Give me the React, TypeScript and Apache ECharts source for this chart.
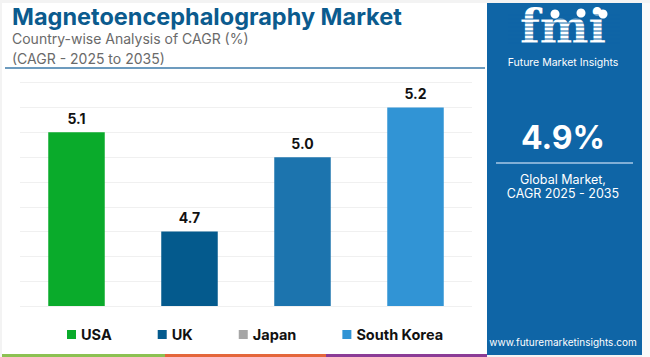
import React, { useEffect, useRef } from "react";
import * as echarts from "echarts";

const categories = ["USA", "UK", "Japan", "South Korea"];
const values = [5.1, 4.7, 5.0, 5.2];
const barColors = ["#0aab2b", "#045a8d", "#1c74ae", "#3194d5"];
const legendColors = ["#0aab2b", "#045a8d", "#a6a6a6", "#3194d5"];
const yMin = 4.4;
const yMax = 5.3;
const yStep = 0.1;

const FONT = "Inter, 'Open Sans', sans-serif";

export default function App() {
  const ref = useRef<HTMLDivElement>(null);
  useEffect(() => {
    if (!ref.current) return;
    const chart = echarts.init(ref.current, null, { renderer: "svg" });
    const series = categories.map((name, i) => ({
      name,
      type: "bar",
      barWidth: "50%",
      barGap: "-100%",
      itemStyle: { color: barColors[i] },
      label: {
        show: true,
        position: "top",
        distance: 7,
        fontFamily: FONT,
        fontWeight: "bold",
        fontSize: 14,
        color: "#111",
        formatter: (p: any) => Number(p.value).toFixed(1),
      },
      data: categories.map((_, j) => (j === i ? values[i] : "-")),
    }));
    chart.setOption({
      animation: false,
      backgroundColor: "#f3f3f3",
      grid: { left: 20, right: 178, top: 82.7, bottom: 51 },
      xAxis: {
        type: "category",
        data: categories,
        axisLine: { show: false },
        axisTick: { show: false },
        axisLabel: { show: false },
      },
      yAxis: {
        type: "value",
        min: yMin,
        max: yMax,
        interval: yStep,
        axisLabel: { show: false },
        axisLine: { show: false },
        axisTick: { show: false },
        splitLine: { lineStyle: { color: "#f0f0f0", width: 1 } },
      },
      legend: {
        left: 62,
        top: 322,
        icon: "rect",
        itemWidth: 9,
        itemHeight: 9,
        itemGap: 46,
        selectedMode: false,
        textStyle: { fontFamily: FONT, fontWeight: "bold", fontSize: 14.5, color: "#111" },
        data: categories.map((name, i) => ({ name, itemStyle: { color: legendColors[i] } })),
      },
      graphic: [
        { type: "rect", z: -10, shape: { x: 2, y: 3, width: 485, height: 351 }, style: { fill: "#ffffff" } },
        { type: "rect", z: -10, shape: { x: 642, y: 3, width: 8, height: 354 }, style: { fill: "#fafafa" } },
        {
          type: "text", left: 12, top: 3,
          style: { text: "Magnetoencephalography Market", fontFamily: FONT, fontWeight: "bold", fontSize: 23.5, lineHeight: 26, fill: "#0b5b8e" },
        },
        {
          type: "text", left: 12, top: 30,
          style: { text: "Country-wise Analysis of CAGR (%)", fontFamily: FONT, fontSize: 14, lineHeight: 16, fill: "#6a6a6a" },
        },
        {
          type: "text", left: 12, top: 50,
          style: { text: "(CAGR - 2025 to 2035)", fontFamily: FONT, fontSize: 14, lineHeight: 16, fill: "#6a6a6a" },
        },
        { type: "line", shape: { x1: 5, y1: 68, x2: 485, y2: 68 }, style: { stroke: "#3d7aa8", lineWidth: 1.5 } },
        { type: "rect", shape: { x: 487, y: 3, width: 155, height: 352 }, style: { fill: "#0f65a6" } },
        {
          type: "text", x: 563, y: 27,
          style: { text: "fmi", fontFamily: "'DejaVu Serif', serif", fontWeight: "bold", fontSize: 46, lineHeight: 36, fill: "#ffffff", align: "center", verticalAlign: "middle" },
        },
        ...[15, 19, 23, 27, 31, 35, 39, 43].map((y) => ({
          type: "line", shape: { x1: 508, y1: y, x2: 620, y2: y }, style: { stroke: "#0f65a6", lineWidth: 1 },
        })),
        { type: "circle", shape: { cx: 555, cy: 14, r: 4.5 }, style: { fill: "#ffffff" } },
        { type: "circle", shape: { cx: 581, cy: 13, r: 4.5 }, style: { fill: "#ffffff" } },
        { type: "circle", shape: { cx: 603, cy: 14, r: 4.5 }, style: { fill: "#ffffff" } },
        {
          type: "text", x: 563, y: 62,
          style: { text: "Future Market Insights", fontFamily: FONT, fontSize: 10.5, lineHeight: 12, fill: "#ffffff", align: "center", verticalAlign: "middle" },
        },
        {
          type: "text", x: 563, y: 137,
          style: { text: "4.9%", fontFamily: FONT, fontWeight: "bold", fontSize: 32, fill: "#ffffff", align: "center", verticalAlign: "middle" },
        },
        { type: "line", shape: { x1: 496, y1: 163, x2: 633, y2: 163 }, style: { stroke: "#a9c9e6", lineWidth: 1.5 } },
        {
          type: "text", x: 563, y: 179,
          style: { text: "Global Market,", fontFamily: FONT, fontSize: 12.5, fill: "#ffffff", align: "center", verticalAlign: "middle" },
        },
        {
          type: "text", x: 563, y: 193,
          style: { text: "CAGR 2025 - 2035", fontFamily: FONT, fontSize: 12.5, fill: "#ffffff", align: "center", verticalAlign: "middle" },
        },
        {
          type: "text", x: 563, y: 342,
          style: { text: "www.futuremarketinsights.com", fontFamily: FONT, fontSize: 10, fill: "#ffffff", align: "center", verticalAlign: "middle" },
        },
        { type: "rect", shape: { x: 2, y: 354, width: 163, height: 3 }, style: { fill: "#8cc152" } },
        { type: "rect", shape: { x: 165, y: 354, width: 161, height: 3 }, style: { fill: "#e4663b" } },
        { type: "rect", shape: { x: 326, y: 354, width: 161, height: 3 }, style: { fill: "#8b3c96" } },
      ],
      series,
    });
    return () => chart.dispose();
  }, []);
  return <div ref={ref} style={{ position: "fixed", left: 0, top: 0, width: 650, height: 357 }} />;
}
